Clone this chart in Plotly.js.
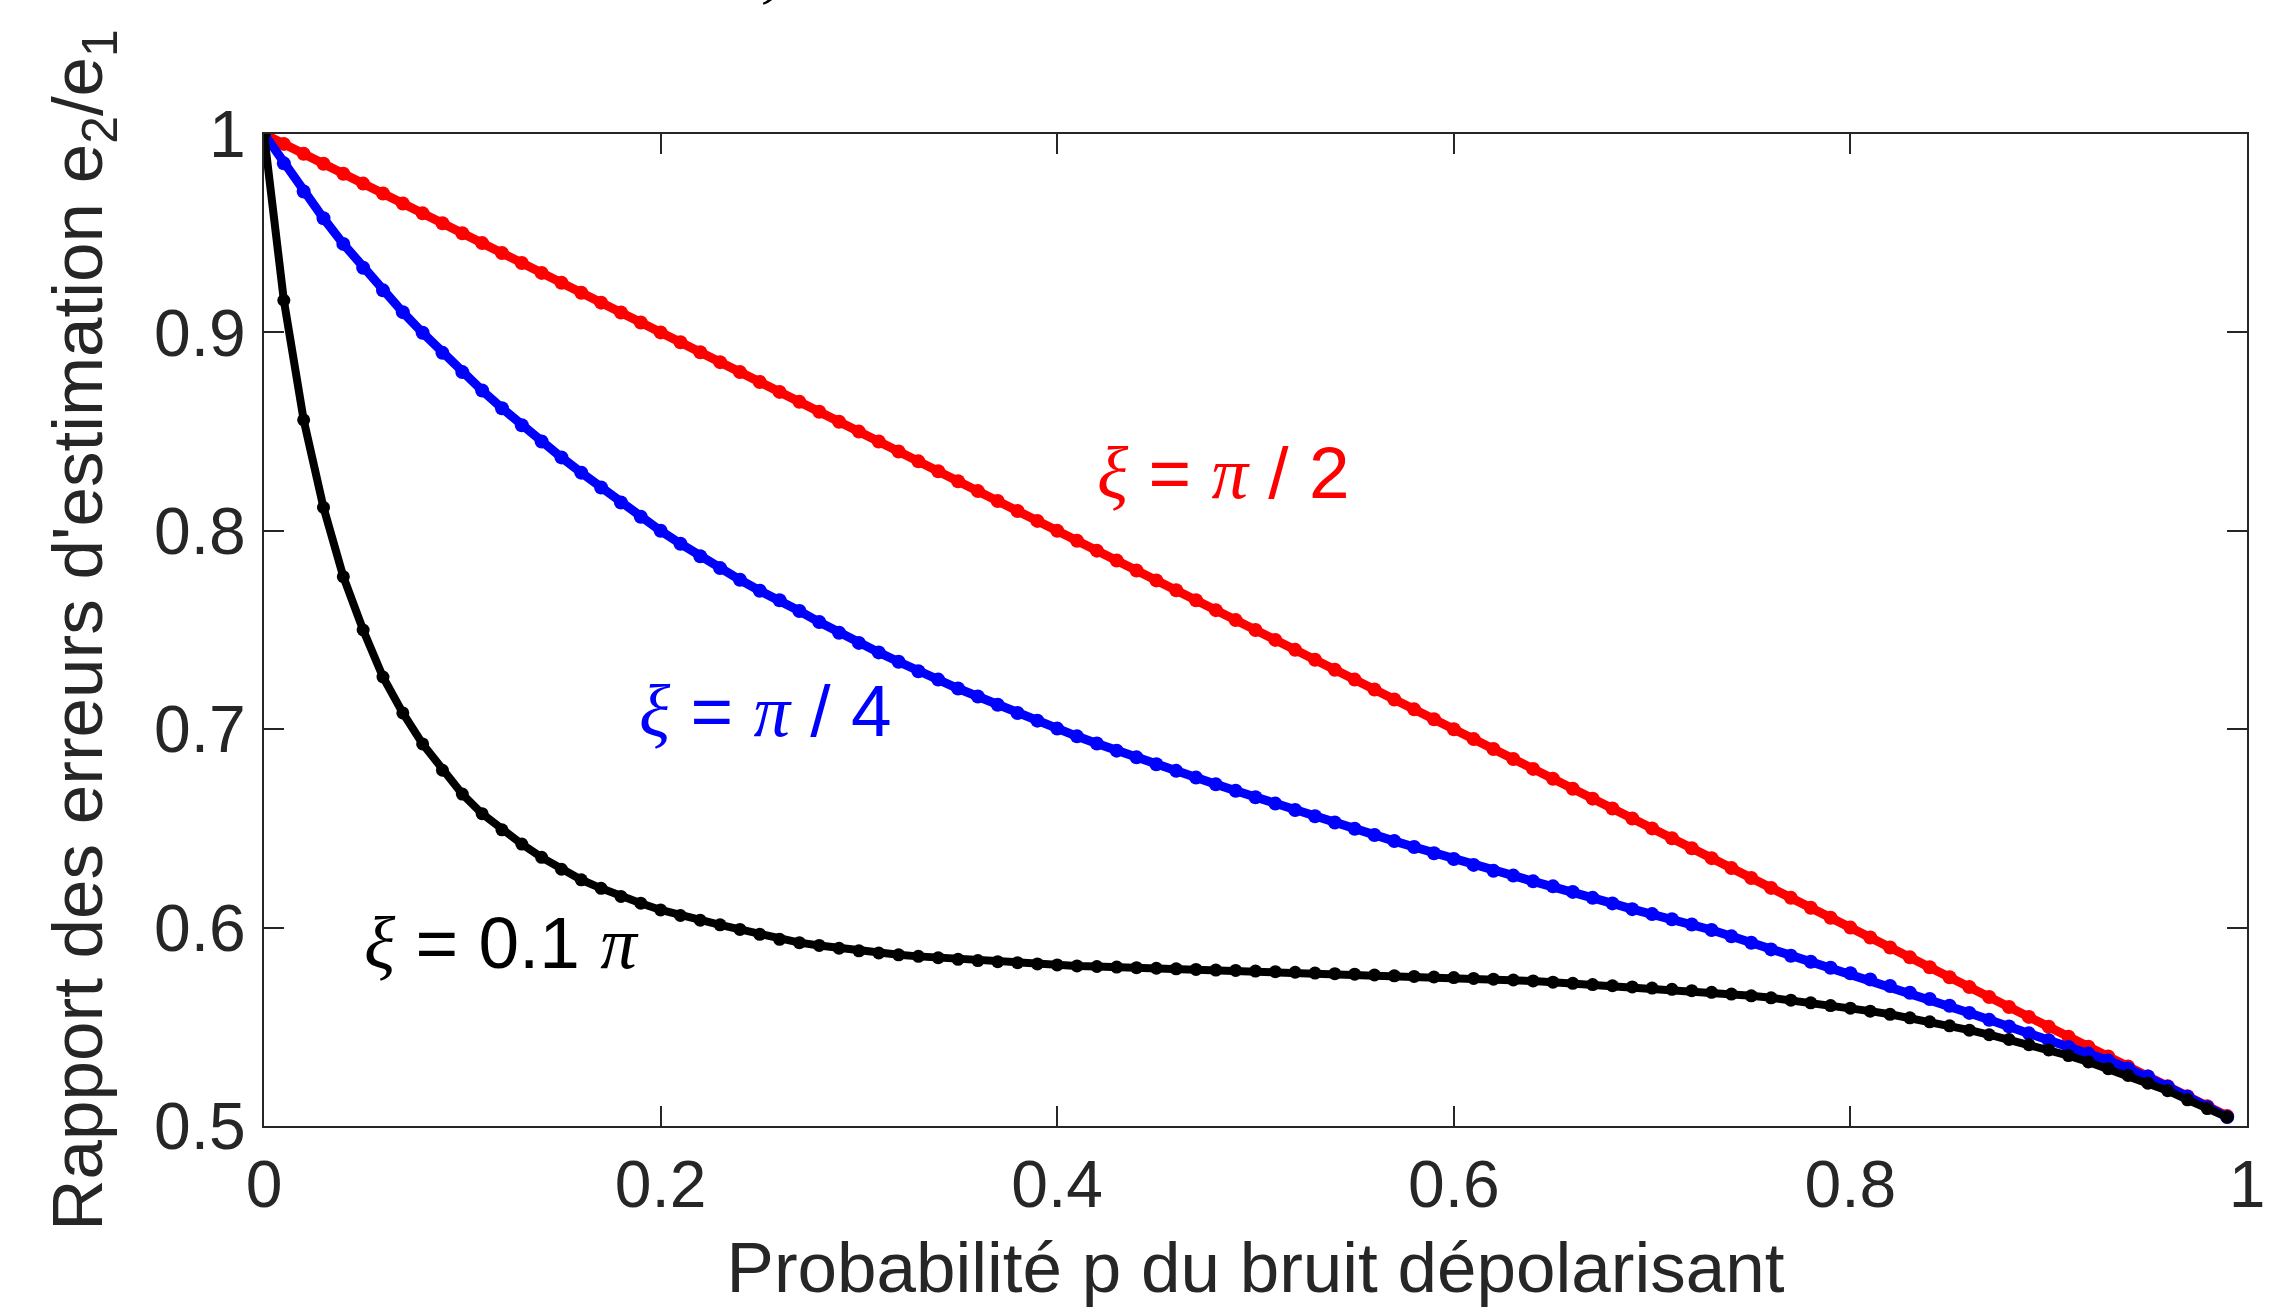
<!DOCTYPE html>
<html>
<head>
<meta charset="utf-8">
<script src="https://cdn.plot.ly/plotly-3.0.1.min.js"></script>
<style>
html,body{margin:0;padding:0;background:#fff;}
#chart{width:2284px;height:1312px;}
</style>
</head>
<body>
<div id="chart"></div>
<script>
// Probabilité p du bruit dépolarisant
const pValues = [0.00,0.01,0.02,0.03,0.04,0.05,0.06,0.07,0.08,0.09,
0.10,0.11,0.12,0.13,0.14,0.15,0.16,0.17,0.18,0.19,
0.20,0.21,0.22,0.23,0.24,0.25,0.26,0.27,0.28,0.29,
0.30,0.31,0.32,0.33,0.34,0.35,0.36,0.37,0.38,0.39,
0.40,0.41,0.42,0.43,0.44,0.45,0.46,0.47,0.48,0.49,
0.50,0.51,0.52,0.53,0.54,0.55,0.56,0.57,0.58,0.59,
0.60,0.61,0.62,0.63,0.64,0.65,0.66,0.67,0.68,0.69,
0.70,0.71,0.72,0.73,0.74,0.75,0.76,0.77,0.78,0.79,
0.80,0.81,0.82,0.83,0.84,0.85,0.86,0.87,0.88,0.89,
0.90,0.91,0.92,0.93,0.94,0.95,0.96,0.97,0.98,0.99];

// xi = pi/2 (red)
const ratioXiHalfPi = [1.000,0.995,0.990,0.985,0.980,0.975,0.970,0.965,0.960,0.955,
0.950,0.945,0.940,0.935,0.930,0.925,0.920,0.915,0.910,0.905,
0.900,0.895,0.890,0.885,0.880,0.875,0.870,0.865,0.860,0.855,
0.850,0.845,0.840,0.835,0.830,0.825,0.820,0.815,0.810,0.805,
0.800,0.795,0.790,0.785,0.780,0.775,0.770,0.765,0.760,0.755,
0.750,0.745,0.740,0.735,0.730,0.725,0.720,0.715,0.710,0.705,
0.700,0.695,0.690,0.685,0.680,0.675,0.670,0.665,0.660,0.655,
0.650,0.645,0.640,0.635,0.630,0.625,0.620,0.615,0.610,0.605,
0.600,0.595,0.590,0.585,0.580,0.575,0.570,0.565,0.560,0.555,
0.550,0.545,0.540,0.535,0.530,0.525,0.520,0.515,0.510,0.505];

// xi = pi/4 (blue)
const ratioXiQuarterPi = [1.0000,0.9852,0.9710,0.9575,0.9446,0.9326,0.9212,0.9102,0.8998,0.8897,
0.8800,0.8707,0.8618,0.8532,0.8450,0.8370,0.8293,0.8218,0.8143,0.8071,
0.8000,0.7935,0.7872,0.7812,0.7753,0.7698,0.7650,0.7596,0.7540,0.7486,
0.7435,0.7387,0.7340,0.7292,0.7250,0.7205,0.7165,0.7123,0.7082,0.7043,
0.7003,0.6964,0.6928,0.6892,0.6858,0.6823,0.6790,0.6756,0.6722,0.6690,
0.6657,0.6625,0.6593,0.6561,0.6530,0.6498,0.6467,0.6436,0.6406,0.6375,
0.6346,0.6316,0.6286,0.6262,0.6233,0.6208,0.6180,0.6150,0.6122,0.6093,
0.6068,0.6042,0.6016,0.5988,0.5956,0.5924,0.5890,0.5858,0.5828,0.5798,
0.5770,0.5739,0.5706,0.5672,0.5640,0.5606,0.5570,0.5535,0.5502,0.5467,
0.5432,0.5398,0.5365,0.5330,0.5290,0.5250,0.5198,0.5147,0.5095,0.5045];

// xi = 0.1 pi (black)
const ratioXiTenthPi = [1.0000,0.9162,0.8559,0.8118,0.7769,0.7500,0.7263,0.7082,0.6926,0.6793,
0.6673,0.6574,0.6493,0.6421,0.6354,0.6294,0.6241,0.6198,0.6157,0.6123,
0.6089,0.6061,0.6037,0.6014,0.5991,0.5966,0.5941,0.5924,0.5910,0.5896,
0.5883,0.5872,0.5863,0.5855,0.5848,0.5840,0.5834,0.5828,0.5823,0.5817,
0.5812,0.5807,0.5804,0.5801,0.5798,0.5795,0.5792,0.5789,0.5786,0.5784,
0.5781,0.5778,0.5775,0.5771,0.5768,0.5765,0.5761,0.5757,0.5754,0.5751,
0.5748,0.5744,0.5740,0.5736,0.5731,0.5725,0.5719,0.5713,0.5707,0.5701,
0.5695,0.5689,0.5682,0.5674,0.5665,0.5656,0.5646,0.5634,0.5621,0.5607,
0.5594,0.5579,0.5563,0.5545,0.5525,0.5505,0.5483,0.5460,0.5436,0.5410,
0.5383,0.5355,0.5323,0.5289,0.5255,0.5216,0.5178,0.5132,0.5088,0.5045];

const xTickVals = [0, 0.2, 0.4, 0.6, 0.8, 1];
const xTickText = ['0', '0.2', '0.4', '0.6', '0.8', '1'];
const yTickVals = [0.5, 0.6, 0.7, 0.8, 0.9, 1];
const yTickText = ['0.5', '0.6', '0.7', '0.8', '0.9', '1'];

const curveLabels = [
  {text: '<i><span style="font-family:Liberation Serif">ξ</span></i> = <i><span style="font-family:Liberation Serif">π</span></i> / 2', x: 0.419, y: 0.829, color: '#ff0000'},
  {text: '<i><span style="font-family:Liberation Serif">ξ</span></i> = <i><span style="font-family:Liberation Serif">π</span></i> / 4', x: 0.188, y: 0.709, color: '#0000ff'},
  {text: '<i><span style="font-family:Liberation Serif">ξ</span></i> = 0.1 <i><span style="font-family:Liberation Serif">π</span></i>', x: 0.0494, y: 0.592, color: '#000000'}
];

const axisColor = '#262626';
const fontFam = 'Liberation Sans, Arial, sans-serif';

function series(y, color, lw, ms) {
  return {
    x: pValues, y: y, type: 'scatter', mode: 'lines+markers',
    line: {color: color, width: lw},
    marker: {color: color, size: ms, symbol: 'circle'},
    showlegend: false, hoverinfo: 'skip'
  };
}

const data = [
  series(ratioXiHalfPi, '#ff0000', 9, 14),
  series(ratioXiQuarterPi, '#0000ff', 9, 14),
  series(ratioXiTenthPi, '#000000', 8, 13)
];

const annotations = curveLabels.map(l => ({
  xref: 'x', yref: 'y', x: l.x, y: l.y, xanchor: 'left', yanchor: 'middle',
  text: l.text, showarrow: false,
  font: {family: fontFam, size: 73, color: l.color}
}));
annotations.push({
  xref: 'x', yref: 'paper', x: 0.2516, y: 1.124, xanchor: 'center', yanchor: 'bottom',
  text: '<i><span style="font-family:Liberation Serif">ξ</span></i>', showarrow: false,
  font: {family: fontFam, size: 72, color: '#000000'}
});

const layout = {
  width: 2284, height: 1312,
  margin: {l: 264, r: 37, t: 134, b: 186, pad: 0},
  paper_bgcolor: '#ffffff', plot_bgcolor: '#ffffff',
  font: {family: fontFam, color: axisColor},
  xaxis: {
    range: [0, 1], tickvals: xTickVals, ticktext: xTickText,
    ticks: 'inside', ticklen: 20, tickwidth: 2, tickcolor: axisColor,
    showline: true, linecolor: axisColor, linewidth: 2, mirror: 'ticks',
    showgrid: false, zeroline: false,
    tickfont: {family: fontFam, size: 66, color: axisColor},
    ticklabelstandoff: 0,
    title: {text: 'Probabilité p du bruit dépolarisant', font: {family: fontFam, size: 71, color: axisColor}, standoff: 22},
    automargin: false
  },
  yaxis: {
    range: [0.5, 1], tickvals: yTickVals, ticktext: yTickText,
    ticks: 'inside', ticklen: 20, tickwidth: 2, tickcolor: axisColor,
    showline: true, linecolor: axisColor, linewidth: 2, mirror: 'ticks',
    showgrid: false, zeroline: false,
    tickfont: {family: fontFam, size: 66, color: axisColor},
    ticklabelstandoff: 3,
    title: {text: "Rapport des erreurs d'estimation e<sub>2</sub>/e<sub>1</sub>", font: {family: fontFam, size: 71, color: axisColor}, standoff: 28},
    automargin: false
  },
  annotations: annotations
};

Plotly.newPlot('chart', data, layout, {staticPlot: true, displayModeBar: false});
</script>
</body>
</html>
